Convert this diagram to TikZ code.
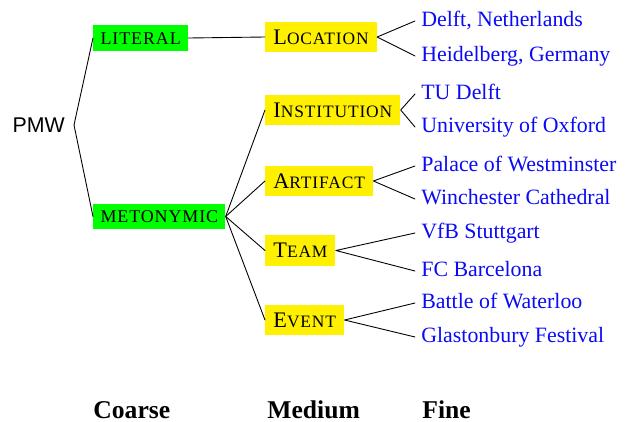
\documentclass[tikz,border=0pt]{standalone}
\usepackage{fontspec}
\setmainfont{Liberation Serif}
\newfontfamily\pmwfont{Liberation Sans}
\newfontfamily\pmwscfamily[LetterSpace=5]{Liberation Serif}
\newcommand\pmwsc{\pmwscfamily\fontsize{9.8}{11}\selectfont}
\newcommand\medcap[2]{{\fontsize{12.5}{14}\selectfont #1}{\pmwsc #2}}
\definecolor{litgreen}{RGB}{0,255,0}
\definecolor{medyellow}{RGB}{255,240,0}
\definecolor{leafblue}{RGB}{10,10,245}
\tikzset{
  coarse/.style={fill=litgreen, anchor=west, inner xsep=4pt, inner ysep=0pt, minimum height=14.6pt, text height=6.8pt, text depth=0pt, font=\pmwscfamily\fontsize{10.1}{11}\selectfont},
  medium/.style={fill=medyellow, anchor=west, inner xsep=4.5pt, inner ysep=0pt, minimum height=16.9pt, text height=8.4pt, text depth=0pt},
  fine/.style={anchor=west, text=leafblue, text height=1.5ex, text depth=.25ex, font=\fontsize{12.3}{14}\selectfont},
  level/.style={anchor=base west, inner sep=0pt, font=\fontsize{14.4}{16}\selectfont\bfseries}
}
\begin{document}
\begin{tikzpicture}[x=0.5625pt, y=-0.5625pt, line width=0.5pt, line join=round, line cap=round, font=\fontsize{12}{14}\selectfont]
\useasboundingbox (0,0) rectangle (625,421);
\node[anchor=east, inner xsep=5pt, font=\pmwfont\fontsize{12}{14}\selectfont] (pmw) at (74,125) {PMW};
% coarse
\node[coarse] (lit) at (93,38) {LITERAL};
\node[coarse] (met) at (93,216.5) {METONYMIC};
% medium
\node[medium] (loc) at (265,37) {\medcap{L}{OCATION}};
\node[medium] (ins) at (265,110) {\medcap{I}{NSTITUTION}};
\node[medium] (art) at (265,181) {\medcap{A}{RTIFACT}};
\node[medium] (team) at (265,250.5) {\medcap{T}{EAM}};
\node[medium] (evt) at (265,320) {\medcap{E}{VENT}};
% fine
\foreach \n/\y/\t in {d1/21/{Delft, Netherlands}, d2/56/{Heidelberg, Germany}, i1/94/{TU Delft}, i2/127/{University of Oxford},
  a1/166/{Palace of Westminster}, a2/199/{Winchester Cathedral}, t1/233/{VfB Stuttgart}, t2/271/{FC Barcelona},
  e1/303/{Battle of Waterloo}, e2/337/{Glastonbury Festival}}
  \node[fine] (\n) at (415,\y) {\t};
\draw (lit.west) -- (pmw.east) -- (met.west) (lit.east) -- (loc.west);
\foreach \m in {ins,art,team,evt} \draw (met.east) -- (\m.west);
\foreach \m/\a/\b in {loc/d1/d2, ins/i1/i2, art/a1/a2, team/t1/t2, evt/e1/e2}
  \draw (\a.west) -- (\m.east) -- (\b.west);
% levels
\node[level] (lcoarse) at (93,418) {Coarse};
\node[level] (lmedium) at (267,418) {Medium};
\node[level] (lfine) at (422,418) {Fine};
\end{tikzpicture}
\end{document}
